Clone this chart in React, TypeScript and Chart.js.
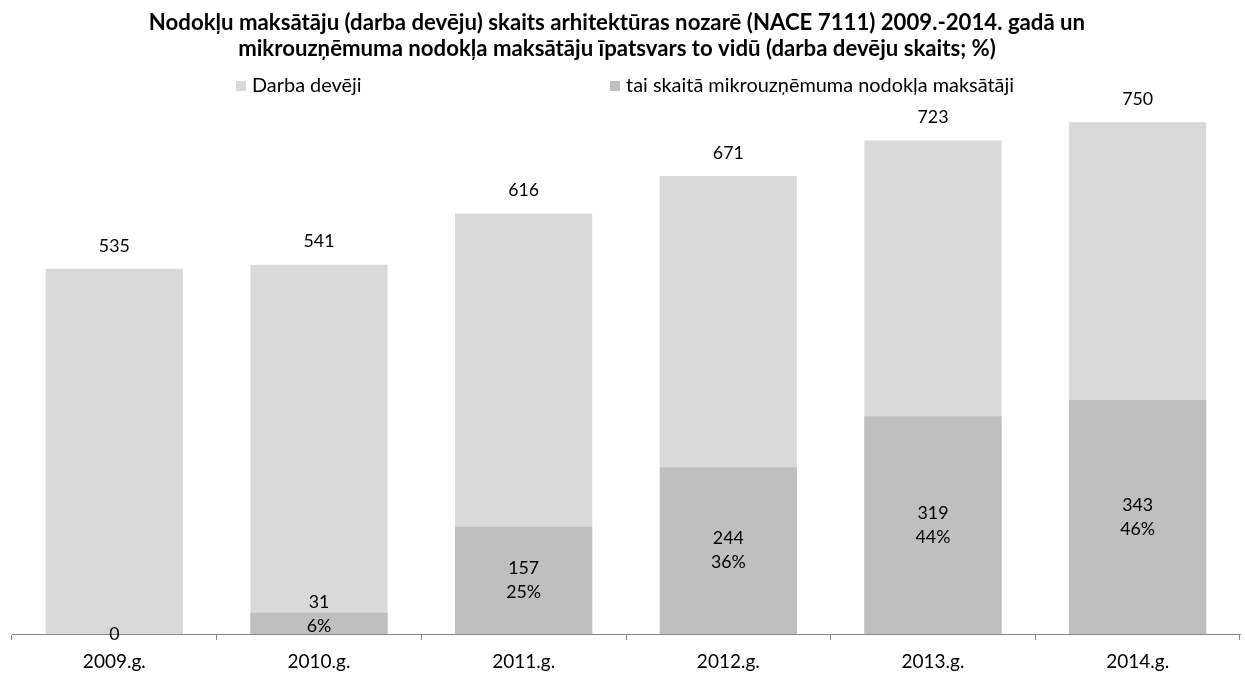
import React, { useEffect, useRef } from "react";
import { Chart, registerables } from "chart.js";

Chart.register(...registerables);

const categories = ["2009.g.", "2010.g.", "2011.g.", "2012.g.", "2013.g.", "2014.g."];
const employers = [535, 541, 616, 671, 723, 750];
const microTax = [0, 31, 157, 244, 319, 343];
const microShare = ["", "6%", "25%", "36%", "44%", "46%"];
const seriesNames = ["Darba devēji", "tai skaitā mikrouzņēmuma nodokļa maksātāji"];
const titleLines = [
  "Nodokļu maksātāju (darba devēju) skaits arhitektūras nozarē (NACE 7111) 2009.-2014. gadā un",
  "mikrouzņēmuma nodokļa maksātāju īpatsvars to vidū (darba devēju skaits; %)",
];

const LIGHT = "#d9d9d9";
const DARK = "#bfbfbf";
const FONT = "Lato, 'Open Sans', sans-serif";

function fitSize(text: string, weight: string, target: number): number {
  const c = document.createElement("canvas").getContext("2d");
  if (!c) return 16;
  c.font = `${weight} 100px ${FONT}`;
  const w = c.measureText(text).width;
  return Math.round((100 * target) / w * 10) / 10;
}

export default function App() {
  const ref = useRef<HTMLCanvasElement | null>(null);

  useEffect(() => {
    if (!ref.current) return;

    const titleSize = fitSize(titleLines[0], "bold", 935);
    const legendSize = fitSize(seriesNames[1], "normal", 388);
    const labelSize = fitSize("535", "normal", 31);
    const tickSize = fitSize(categories[0], "normal", 63);
    const tickPad = Math.max(0, 28 - 6 - 0.6 * tickSize);

    const textPlugin = {
      id: "texts",
      afterDraw(chart: any) {
        const ctx = chart.ctx;
        ctx.save();
        ctx.fillStyle = "#000";
        ctx.textAlign = "center";
        ctx.textBaseline = "alphabetic";
        ctx.font = `bold ${titleSize}px ${FONT}`;
        ctx.fillText(titleLines[0], 617, 30);
        ctx.fillText(titleLines[1], 617, 56);
        const legendX = [236, 610];
        const colors = [LIGHT, DARK];
        ctx.font = `${legendSize}px ${FONT}`;
        ctx.textAlign = "left";
        ctx.textBaseline = "middle";
        seriesNames.forEach((n, i) => {
          ctx.fillStyle = colors[i];
          ctx.fillRect(legendX[i], 81, 10, 10);
          ctx.fillStyle = "#000";
          ctx.fillText(n, legendX[i] + 16, 86);
        });
        ctx.restore();
      },
      afterDatasetsDraw(chart: any) {
        const ctx = chart.ctx;
        const ys = chart.scales.y;
        const bottom = ys.getPixelForValue(0);
        const metaTotal = chart.getDatasetMeta(0);
        const metaMicro = chart.getDatasetMeta(1);
        ctx.save();
        ctx.fillStyle = "#000";
        ctx.textAlign = "center";
        ctx.textBaseline = "middle";
        ctx.font = `${labelSize}px ${FONT}`;
        employers.forEach((v, i) => {
          const el = metaTotal.data[i];
          ctx.fillText(String(v), el.x, el.y - 23);
        });
        microTax.forEach((v, i) => {
          const el = metaMicro.data[i];
          if (v === 0) {
            ctx.fillText(String(v), el.x, bottom);
            return;
          }
          const mid = Math.min((el.y + bottom) / 2, bottom - 20);
          ctx.fillText(String(v), el.x, mid - 12);
          ctx.fillText(microShare[i], el.x, mid + 12);
        });
        ctx.restore();
      },
    };

    const chart = new Chart(ref.current, {
      type: "bar",
      data: {
        labels: categories,
        datasets: [
          {
            label: seriesNames[0],
            data: employers,
            backgroundColor: LIGHT,
            order: 1,
          },
          {
            label: seriesNames[1],
            data: microTax,
            backgroundColor: DARK,
            order: 0,
          },
        ],
      },
      options: {
        animation: false,
        responsive: true,
        maintainAspectRatio: false,
        layout: { padding: { top: 88, left: 12, right: 5, bottom: 0 } },
        datasets: {
          bar: { grouped: false, barPercentage: 1, categoryPercentage: 0.67 },
        },
        plugins: {
          legend: { display: false },
          title: { display: false },
          tooltip: { enabled: false },
        },
        scales: {
          x: {
            afterFit: (scale: any) => {
              scale.height = 41;
            },
            grid: {
              display: true,
              drawOnChartArea: false,
              drawTicks: true,
              tickLength: 6,
              color: "#868686",
              offset: true,
            },
            border: { display: true, color: "#868686", width: 1 },
            ticks: { color: "#000", font: { family: FONT, size: tickSize }, padding: tickPad },
          },
          y: {
            display: false,
            min: 0,
            max: 800,
          },
        },
      },
      plugins: [textPlugin],
    });
    return () => chart.destroy();
  }, []);

  return (
    <div style={{ position: "fixed", left: 0, top: 0, width: 1245, height: 675 }}>
      <canvas ref={ref} />
    </div>
  );
}
